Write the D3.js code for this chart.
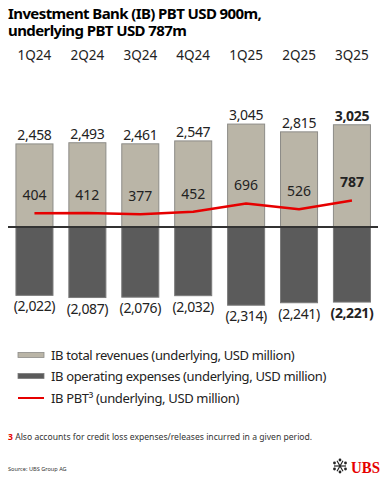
<!DOCTYPE html>
<html><head><meta charset="utf-8">
<script src="https://cdn.jsdelivr.net/npm/d3@7"></script>
<style>html,body{margin:0;padding:0;background:#fff}svg{display:block}</style>
</head><body>
<script>
const categories = ["1Q24","2Q24","3Q24","4Q24","1Q25","2Q25","3Q25"];
const revenues = [2458,2493,2461,2547,3045,2815,3025];
const expenses = [-2022,-2087,-2076,-2032,-2314,-2241,-2221];
const pbt = [404,412,377,452,696,526,787];
const revenueLabels = ["2,458","2,493","2,461","2,547","3,045","2,815","3,025"];
const expenseLabels = ["(2,022)","(2,087)","(2,076)","(2,032)","(2,314)","(2,241)","(2,221)"];
const pbtLabels = ["404","412","377","452","696","526","787"];
const titleLines = ["Investment Bank (IB) PBT USD 900m,","underlying PBT USD 787m"];
const legendItems = ["IB total revenues (underlying, USD million)","IB operating expenses (underlying, USD million)","IB PBT³ (underlying, USD million)"];

const W=386,H=480;
const font = "'Noto Sans', 'Open Sans', sans-serif";
const svg = d3.select("body").append("svg").attr("width",W).attr("height",H)
  .style("font-family",font);

const x = d3.scaleBand().domain(categories).range([8,378.4]).paddingInner(0.3).paddingOuter(0.15);
const y = d3.scaleLinear().domain([-3000,3500]).range([227+3000*0.0338, 227-3500*0.0338]);
const last = categories.length-1;

// Title
titleLines.forEach((t,i)=>{
  svg.append("text").attr("x",8).attr("y",19+i*17).attr("font-size",15).attr("font-weight","bold")
    .attr("fill","#000").attr("letter-spacing",-0.6).text(t);
});

// Category labels (top axis)
const axis = d3.axisTop(x).tickSize(0);
const ag = svg.append("g").attr("transform","translate(0,59)").call(axis);
ag.select(".domain").remove();
ag.selectAll("text").attr("font-size",13.5).attr("fill","#222").style("font-family",font).attr("dy","0.3em");

// Revenue bars
svg.selectAll(".rev").data(revenues).join("rect")
  .attr("x",(d,i)=>x(categories[i])).attr("width",x.bandwidth())
  .attr("y",d=>y(d)).attr("height",d=>y(0)-y(d))
  .attr("fill","#bab5a7").attr("stroke","#8d8c88").attr("stroke-width",1);
// Expense bars
svg.selectAll(".exp").data(expenses).join("rect")
  .attr("x",(d,i)=>x(categories[i])).attr("width",x.bandwidth())
  .attr("y",y(0)).attr("height",d=>y(d)-y(0))
  .attr("fill","#5b5b5b").attr("stroke","#7a7a7a").attr("stroke-width",1);

// baseline
svg.append("line").attr("x1",8).attr("x2",378).attr("y1",y(0)).attr("y2",y(0))
  .attr("stroke","#333").attr("stroke-width",2);

// PBT line
const line = d3.line().x((d,i)=>x(categories[i])+x.bandwidth()/2).y(d=>y(d));
svg.append("path").datum(pbt).attr("d",line).attr("fill","none").attr("stroke","#e60000").attr("stroke-width",2.5).attr("stroke-linejoin","round");

// labels
svg.selectAll(".rl").data(revenues).join("text")
  .attr("x",(d,i)=>x(categories[i])+x.bandwidth()/2).attr("y",d=>y(d)-4)
  .attr("text-anchor","middle").attr("font-size",14).attr("fill","#222").attr("letter-spacing",-0.3)
  .attr("font-weight",(d,i)=>i===last?"bold":"normal")
  .text((d,i)=>revenueLabels[i]);
svg.selectAll(".pl").data(pbt).join("text")
  .attr("x",(d,i)=>x(categories[i])+x.bandwidth()/2).attr("y",d=>y(d)-13)
  .attr("text-anchor","middle").attr("font-size",14).attr("fill","#222")
  .attr("font-weight",(d,i)=>i===last?"bold":"normal")
  .text((d,i)=>pbtLabels[i]);
svg.selectAll(".el").data(expenses).join("text")
  .attr("x",(d,i)=>x(categories[i])+x.bandwidth()/2).attr("y",d=>y(d)+16)
  .attr("text-anchor","middle").attr("font-size",14).attr("fill","#222").attr("letter-spacing",-0.4)
  .attr("font-weight",(d,i)=>i===last?"bold":"normal")
  .text((d,i)=>expenseLabels[i]);

// Legend
const ly=[355,376,398];
svg.append("rect").attr("x",18).attr("y",ly[0]-2.5).attr("width",26).attr("height",5).attr("fill","#bab5a7").attr("stroke","#8d8c88").attr("stroke-width",0.8);
svg.append("rect").attr("x",18).attr("y",ly[1]-2.5).attr("width",26).attr("height",5).attr("fill","#5b5b5b").attr("stroke","#7a7a7a").attr("stroke-width",0.8);
svg.append("line").attr("x1",18).attr("x2",44).attr("y1",ly[2]).attr("y2",ly[2]).attr("stroke","#e60000").attr("stroke-width",2);
legendItems.forEach((t,i)=>{
  svg.append("text").attr("x",51).attr("y",ly[i]+5).attr("font-size",13).attr("letter-spacing",-0.35).attr("fill","#222").text(t);
});

// Footnote
const fn = svg.append("text").attr("x",8).attr("y",440).attr("font-size",8.6).attr("fill","#333");
fn.append("tspan").attr("fill","#e60000").attr("font-weight","bold").text("3");
fn.append("tspan").text(" Also accounts for credit loss expenses/releases incurred in a given period.");

svg.append("text").attr("x",8).attr("y",471).attr("font-size",5.6).attr("fill","#333").text("Source: UBS Group AG");

// UBS logo
const lg = svg.append("g").attr("transform","translate(340,466)").attr("stroke","#222").attr("stroke-width",1.2).attr("fill","none");
[0,60,120].forEach(a=>{
  lg.append("line").attr("x1",-6).attr("x2",6).attr("y1",0).attr("y2",0).attr("transform",`rotate(${a})`);
});
[[-5.5,-3],[5.5,-3],[-5.5,3],[5.5,3],[0,-6],[0,6]].forEach(p=>{
  lg.append("circle").attr("cx",p[0]).attr("cy",p[1]).attr("r",1.4).attr("fill","#222").attr("stroke","none");
});
svg.append("text").attr("x",351).attr("y",472.7).attr("font-size",17).attr("font-weight","bold")
  .attr("textLength",29).attr("lengthAdjust","spacingAndGlyphs")
  .attr("font-family","'Liberation Serif', 'DejaVu Serif', serif").attr("fill","#e60000").text("UBS");
</script>
</body></html>
